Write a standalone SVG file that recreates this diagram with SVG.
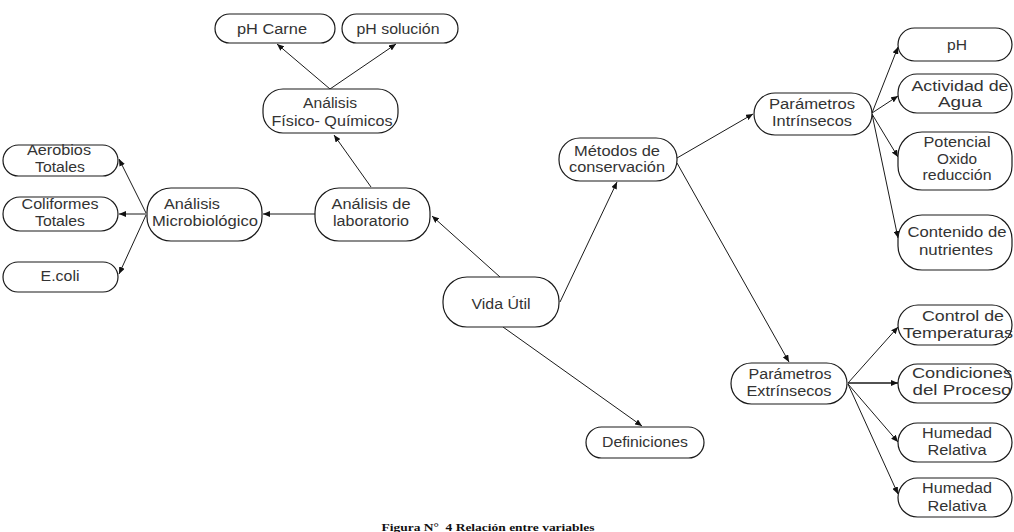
<svg xmlns="http://www.w3.org/2000/svg" width="1014" height="532" viewBox="0 0 1014 532">
<style>
.n{fill:#fff;stroke:#1a1a1a;stroke-width:1.2}
.t{font-family:"Liberation Sans",Arial,sans-serif;font-size:14px;fill:#333;text-anchor:middle}
.c{stroke:#1a1a1a;stroke-width:1;fill:none;marker-end:url(#a)}
.cap{font-family:"Liberation Serif","Times New Roman",serif;font-size:11px;font-weight:bold;fill:#111;text-anchor:middle;white-space:pre}
</style>
<defs>
<marker id="a" markerWidth="7" markerHeight="6" refX="7" refY="3" orient="auto" markerUnits="userSpaceOnUse">
<path d="M0,0 L7,3 L0,6 z" fill="#111"/>
</marker>
</defs>
<rect width="1014" height="532" fill="#fff"/>
<g id="connectors">
<line class="c" x1="330" y1="89" x2="277" y2="44"/>
<line class="c" x1="330" y1="89" x2="396" y2="44"/>
<line class="c" x1="371" y1="187" x2="334" y2="135"/>
<line class="c" x1="315" y1="214" x2="263" y2="214"/>
<line class="c" x1="146" y1="213" x2="119" y2="159"/>
<line class="c" x1="146" y1="214" x2="119" y2="214"/>
<line class="c" x1="146" y1="215" x2="119" y2="274"/>
<line class="c" x1="500" y1="277" x2="432" y2="216"/>
<line class="c" x1="560" y1="302" x2="617" y2="182"/>
<line class="c" x1="677" y1="158" x2="753" y2="114"/>
<line class="c" x1="677" y1="163" x2="789" y2="362"/>
<line class="c" x1="503" y1="327" x2="642" y2="426"/>
<line class="c" x1="872" y1="113" x2="898" y2="47"/>
<line class="c" x1="872" y1="113" x2="898" y2="96"/>
<line class="c" x1="872" y1="114" x2="898" y2="157"/>
<line class="c" x1="872" y1="114" x2="898" y2="238"/>
<line class="c" x1="848" y1="383" x2="898" y2="327"/>
<line class="c" x1="848" y1="383" x2="898" y2="383" style="stroke-width:1.6"/>
<line class="c" x1="848" y1="384" x2="898" y2="442"/>
<line class="c" x1="848" y1="384" x2="898" y2="494"/>
</g>
<g id="ph-carne"><rect class="n" x="215" y="14" width="120" height="29" rx="14.5"/><text class="t" x="272" y="34" textLength="70" lengthAdjust="spacingAndGlyphs">pH Carne</text></g>
<g id="ph-solucion"><rect class="n" x="342" y="14" width="116" height="29" rx="14.5"/><text class="t" x="398" y="34" textLength="83" lengthAdjust="spacingAndGlyphs">pH solución</text></g>
<g id="fisico-quimicos"><rect class="n" x="263" y="89" width="135" height="44" rx="20"/><text class="t" x="330" y="108" textLength="54" lengthAdjust="spacingAndGlyphs">Análisis</text><text class="t" x="332" y="126" textLength="121" lengthAdjust="spacingAndGlyphs">Físico- Químicos</text></g>
<g id="aerobios"><rect class="n" x="3" y="145" width="115" height="31" rx="15.5"/><text class="t" x="59" y="155" textLength="64" lengthAdjust="spacingAndGlyphs">Aerobios</text><text class="t" x="60" y="172" textLength="50" lengthAdjust="spacingAndGlyphs">Totales</text></g>
<g id="coliformes"><rect class="n" x="3" y="197" width="115" height="34" rx="17"/><text class="t" x="60" y="209" textLength="77" lengthAdjust="spacingAndGlyphs">Coliformes</text><text class="t" x="60" y="226" textLength="50" lengthAdjust="spacingAndGlyphs">Totales</text></g>
<g id="ecoli"><rect class="n" x="3" y="262" width="115" height="30" rx="15"/><text class="t" x="60" y="281" textLength="39" lengthAdjust="spacingAndGlyphs">E.coli</text></g>
<g id="microbiologico"><rect class="n" x="147" y="188" width="115" height="53" rx="24"/><text class="t" x="192" y="209" textLength="56" lengthAdjust="spacingAndGlyphs">Análisis</text><text class="t" x="205" y="226" textLength="106" lengthAdjust="spacingAndGlyphs">Microbiológico</text></g>
<g id="laboratorio"><rect class="n" x="315" y="188" width="115" height="53" rx="24"/><text class="t" x="371" y="209" textLength="79" lengthAdjust="spacingAndGlyphs">Análisis de</text><text class="t" x="371" y="226" textLength="76" lengthAdjust="spacingAndGlyphs">laboratorio</text></g>
<g id="vida-util"><rect class="n" x="443" y="277" width="116" height="50" rx="24"/><text class="t" x="501" y="309" textLength="59" lengthAdjust="spacingAndGlyphs">Vida Útil</text></g>
<g id="metodos"><rect class="n" x="559" y="138" width="118" height="43" rx="21"/><text class="t" x="617" y="156" textLength="86" lengthAdjust="spacingAndGlyphs">Métodos de</text><text class="t" x="617" y="172" textLength="96" lengthAdjust="spacingAndGlyphs">conservación</text></g>
<g id="intrinsecos"><rect class="n" x="754" y="93" width="118" height="42" rx="21"/><text class="t" x="812" y="109" textLength="86" lengthAdjust="spacingAndGlyphs">Parámetros</text><text class="t" x="812" y="126" textLength="80" lengthAdjust="spacingAndGlyphs">Intrínsecos</text></g>
<g id="ph"><rect class="n" x="898" y="28" width="114" height="33" rx="16.5"/><text class="t" x="957" y="50" textLength="20" lengthAdjust="spacingAndGlyphs">pH</text></g>
<g id="actividad"><rect class="n" x="898" y="74" width="114" height="39" rx="19"/><text class="t" x="960" y="91" textLength="97" lengthAdjust="spacingAndGlyphs">Actividad de</text><text class="t" x="960" y="107" textLength="44" lengthAdjust="spacingAndGlyphs">Agua</text></g>
<g id="potencial"><rect class="n" x="898" y="132" width="114" height="58" rx="24"/><text class="t" x="957" y="147" textLength="67" lengthAdjust="spacingAndGlyphs">Potencial</text><text class="t" x="957" y="164" textLength="40" lengthAdjust="spacingAndGlyphs">Oxido</text><text class="t" x="957" y="180" textLength="69" lengthAdjust="spacingAndGlyphs">reducción</text></g>
<g id="contenido"><rect class="n" x="898" y="215" width="114" height="55" rx="24"/><text class="t" x="957" y="237" textLength="99" lengthAdjust="spacingAndGlyphs">Contenido de</text><text class="t" x="956" y="255" textLength="74" lengthAdjust="spacingAndGlyphs">nutrientes</text></g>
<g id="extrinsecos"><rect class="n" x="731" y="363" width="116" height="41" rx="20.5"/><text class="t" x="790" y="379" textLength="83" lengthAdjust="spacingAndGlyphs">Parámetros</text><text class="t" x="789" y="396" textLength="85" lengthAdjust="spacingAndGlyphs">Extrínsecos</text></g>
<g id="control"><rect class="n" x="898" y="305" width="114" height="40" rx="20"/><text class="t" x="963" y="321" textLength="82" lengthAdjust="spacingAndGlyphs">Control de</text><text class="t" x="958" y="338" textLength="110" lengthAdjust="spacingAndGlyphs">Temperaturas</text></g>
<g id="condiciones"><rect class="n" x="898" y="364" width="114" height="39" rx="19.5"/><text class="t" x="962" y="378" textLength="100" lengthAdjust="spacingAndGlyphs">Condiciones</text><text class="t" x="962" y="395" textLength="99" lengthAdjust="spacingAndGlyphs">del Proceso</text></g>
<g id="humedad1"><rect class="n" x="898" y="423" width="114" height="39" rx="19.5"/><text class="t" x="957" y="438" textLength="70" lengthAdjust="spacingAndGlyphs">Humedad</text><text class="t" x="957" y="455" textLength="59" lengthAdjust="spacingAndGlyphs">Relativa</text></g>
<g id="humedad2"><rect class="n" x="898" y="478" width="114" height="39" rx="19.5"/><text class="t" x="957" y="493" textLength="70" lengthAdjust="spacingAndGlyphs">Humedad</text><text class="t" x="957" y="511" textLength="59" lengthAdjust="spacingAndGlyphs">Relativa</text></g>
<g id="definiciones"><rect class="n" x="586" y="427" width="118" height="31" rx="15.5"/><text class="t" x="645" y="447" textLength="86" lengthAdjust="spacingAndGlyphs">Definiciones</text></g>
<text class="cap" x="488" y="531" textLength="213" lengthAdjust="spacingAndGlyphs">Figura N°  4 Relación entre variables</text>
</svg>
